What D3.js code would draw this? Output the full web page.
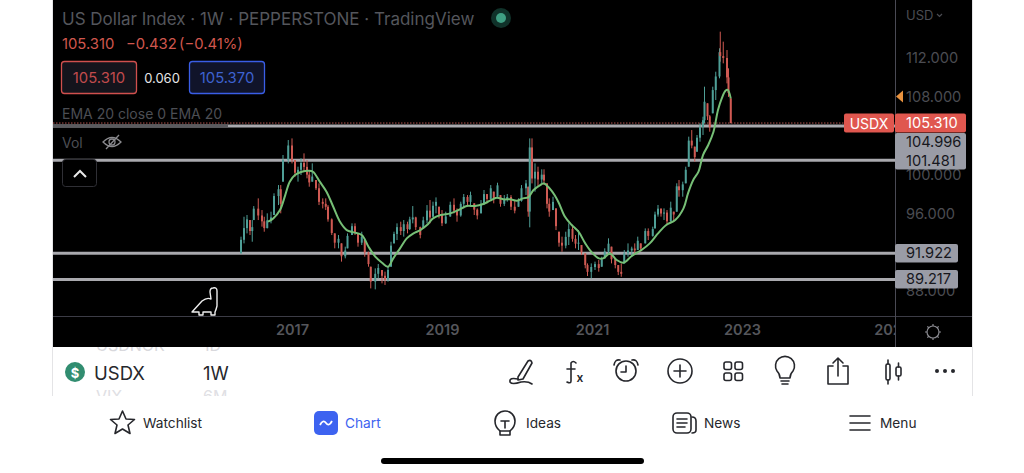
<!DOCTYPE html>
<html><head><meta charset="utf-8">
<script src="https://cdn.jsdelivr.net/npm/d3@7/dist/d3.min.js"></script>
<style>html,body{margin:0;padding:0;background:#fff;overflow:hidden}svg{display:block}text{font-family:Inter,"Noto Sans",sans-serif}</style>
</head><body><svg id="c" width="1024" height="473"></svg>
<script>
const years=[2016.32,2016.36,2016.40,2016.44,2016.47,2016.49,2016.55,2016.60,2016.63,2016.67,2016.72,2016.76,2016.82,2016.85,2016.88,2016.95,2017.00,2017.04,2017.08,2017.12,2017.16,2017.20,2017.23,2017.27,2017.32,2017.36,2017.41,2017.45,2017.48,2017.53,2017.57,2017.62,2017.66,2017.71,2017.74,2017.80,2017.84,2017.88,2017.93,2017.97,2018.02,2018.05,2018.11,2018.15,2018.20,2018.24,2018.28,2018.32,2018.36,2018.40,2018.45,2018.49,2018.54,2018.57,2018.61,2018.65,2018.71,2018.75,2018.80,2018.84,2018.88,2018.92,2018.96,2019.00,2019.05,2019.11,2019.16,2019.20,2019.25,2019.29,2019.34,2019.38,2019.43,2019.47,2019.52,2019.56,2019.60,2019.65,2019.69,2019.74,2019.78,2019.83,2019.87,2019.92,2019.97,2020.02,2020.06,2020.12,2020.15,2020.17,2020.20,2020.24,2020.28,2020.33,2020.36,2020.40,2020.43,2020.48,2020.52,2020.56,2020.60,2020.65,2020.69,2020.74,2020.78,2020.82,2020.86,2020.91,2020.94,2020.99,2021.04,2021.09,2021.13,2021.17,2021.22,2021.26,2021.31,2021.35,2021.39,2021.43,2021.48,2021.53,2021.57,2021.61,2021.65,2021.71,2021.75,2021.81,2021.84,2021.88,2021.92,2021.96,2022.00,2022.05,2022.09,2022.13,2022.16,2022.21,2022.25,2022.29,2022.33,2022.37,2022.40,2022.44,2022.48,2022.50,2022.54,2022.57,2022.61,2022.65,2022.70,2022.71,2022.75,2022.80,2022.82,2022.85];
const highs=[93.62,95.67,95.85,95.33,95.33,96.77,97.56,96.36,95.67,96.02,96.19,98.08,98.93,98.93,102.02,103.56,103.73,101.50,100.82,101.68,102.19,101.50,100.48,101.16,99.45,99.10,97.56,97.56,96.87,95.50,93.96,93.79,92.93,92.59,93.96,94.99,94.99,93.96,94.13,93.27,92.07,90.53,90.36,90.81,90.19,90.02,90.53,93.10,94.13,94.99,95.16,95.33,95.16,95.67,96.77,95.67,94.65,95.67,96.87,97.39,97.22,97.66,96.70,96.36,96.19,97.22,97.56,96.53,97.22,98.01,97.90,98.25,97.05,96.53,97.39,98.42,98.01,98.93,98.25,99.17,97.90,97.90,98.01,97.90,97.39,97.56,98.93,99.45,98.76,103.73,103.73,101.16,100.82,100.55,100.55,99.10,97.56,97.73,96.53,94.13,93.62,94.13,94.99,94.65,93.79,94.30,92.76,91.90,90.87,90.87,91.05,91.22,91.56,92.42,93.45,92.59,91.39,90.70,90.87,92.25,92.93,92.59,92.93,93.62,92.93,94.47,94.47,94.65,96.19,96.88,96.53,96.53,96.36,97.22,96.19,99.11,99.45,99.28,100.82,103.91,104.59,102.88,104.08,105.28,105.96,109.05,107.34,106.13,109.05,110.59,113.00,114.71,113.68,112.82,110.94,107.85];
const lows=[91.90,92.93,93.96,93.79,93.10,95.33,95.33,94.65,94.13,94.47,94.99,95.85,96.87,96.02,99.28,101.16,101.16,99.79,99.28,99.96,100.30,99.62,98.76,99.28,98.42,96.87,96.53,96.36,95.16,93.79,92.42,92.42,91.05,91.39,92.42,93.79,93.79,92.59,92.76,91.56,90.53,88.30,88.20,89.33,88.82,88.65,88.99,90.53,92.93,93.27,93.79,93.62,93.96,94.30,94.99,94.30,93.45,94.47,94.99,94.99,95.67,96.02,95.50,94.71,94.92,95.67,96.02,95.16,95.67,96.53,96.87,96.70,95.85,95.40,96.02,96.87,97.05,97.39,97.05,97.73,96.70,96.77,97.22,96.36,96.02,96.70,97.22,97.90,95.67,94.58,99.10,98.25,98.76,99.10,98.93,96.53,95.67,96.36,94.30,92.59,92.07,92.42,92.76,93.10,92.42,92.25,91.73,90.36,89.57,89.33,90.19,90.02,90.53,91.39,91.90,90.87,90.36,89.67,89.50,90.87,91.56,91.56,91.90,92.25,92.08,92.93,93.27,93.62,94.47,95.68,95.68,95.33,94.82,95.16,95.16,96.19,97.73,97.73,99.11,100.82,102.71,101.33,102.36,103.39,104.08,105.28,105.62,104.42,106.31,107.68,109.91,111.62,111.45,109.39,108.00,105.28];
const closes=[93.3,94.5,95.4,94.2,94.6,96.5,95.8,95.2,94.5,95.3,95.6,97.8,98.5,97.0,101.5,103.0,101.5,100.2,100.5,101.2,100.8,100.0,99.2,99.8,98.6,97.2,97.0,96.7,95.4,94.0,93.0,93.4,91.6,92.2,93.7,94.7,94.0,93.0,93.6,92.0,90.8,89.0,89.8,90.4,89.6,89.2,90.2,92.7,93.9,94.6,94.2,94.9,94.4,95.4,95.6,94.6,93.8,95.3,96.3,95.6,96.8,97.2,95.9,95.0,95.7,96.9,96.3,95.8,97.0,97.7,97.2,97.9,96.4,95.8,97.0,98.0,97.5,98.6,97.6,98.9,97.0,97.5,97.7,96.7,96.3,97.3,98.6,99.1,96.2,102.8,99.6,100.3,99.5,100.0,99.4,97.0,96.2,97.2,94.7,93.0,92.7,93.6,94.4,93.4,92.9,93.0,92.0,90.7,90.0,90.5,90.8,90.4,91.3,92.1,92.9,91.3,90.7,90.0,89.8,91.9,92.2,92.4,92.2,93.2,92.4,94.2,93.7,94.4,95.9,96.5,96.0,96.1,95.2,96.6,95.9,98.8,98.4,99.0,100.5,103.5,103.0,101.8,103.8,104.9,105.6,107.5,106.0,104.9,108.7,110.1,112.6,112.2,112.0,110.0,108.4,105.31];
const emaYears=[2016.68,2016.75,2016.84,2016.91,2016.97,2017.04,2017.13,2017.22,2017.28,2017.37,2017.46,2017.55,2017.64,2017.73,2017.82,2017.93,2018.02,2018.11,2018.20,2018.28,2018.35,2018.44,2018.53,2018.62,2018.71,2018.80,2018.88,2018.98,2019.11,2019.22,2019.33,2019.44,2019.55,2019.64,2019.73,2019.82,2019.91,2020.00,2020.08,2020.15,2020.22,2020.31,2020.36,2020.46,2020.55,2020.64,2020.73,2020.82,2020.91,2020.99,2021.09,2021.15,2021.24,2021.33,2021.42,2021.53,2021.66,2021.77,2021.88,2021.99,2022.11,2022.22,2022.28,2022.35,2022.42,2022.48,2022.55,2022.62,2022.68,2022.73,2022.78,2022.81,2022.85];
const emaValues=[95.16,95.50,96.36,97.90,99.28,99.96,100.30,100.41,100.30,99.28,98.25,96.70,95.16,94.30,94.06,93.79,92.59,91.56,90.94,90.53,91.39,92.42,93.44,93.96,94.30,94.82,95.50,95.85,96.02,96.36,96.77,96.77,96.98,97.32,97.63,97.46,97.46,97.32,97.56,97.66,98.42,98.93,99.10,98.35,97.22,95.67,94.82,94.13,92.93,92.07,91.39,91.39,91.90,91.22,90.94,91.63,92.25,92.93,93.96,94.82,95.33,96.53,98.08,99.45,100.31,102.02,103.05,104.42,106.65,107.85,108.64,108.71,107.85];
const levels=[104.996,101.481,91.922,89.217];
const levelLabels=["104.996","101.481","91.922","89.217"];
const priceTicks=[112,108,100,96,88];
const yearTicks=[2017,2019,2021,2023,2025];
const lastPrice=105.31;

const svg=d3.select("#c");
const x=d3.scaleLinear().domain([2017,2023]).range([292,742]);
const y=d3.scaleLinear().domain([112,88]).range([58,291.3]);
const defs=svg.append("defs");
defs.append("clipPath").attr("id","plot").append("rect").attr("x",53).attr("y",0).attr("width",842).attr("height",316);
defs.append("clipPath").attr("id","timeAxis").append("rect").attr("x",53).attr("y",317).attr("width",842).attr("height",30);
defs.append("clipPath").attr("id","peekTop").append("rect").attr("x",53).attr("y",347).attr("width",919).attr("height",7);
defs.append("clipPath").attr("id","peekBot").append("rect").attr("x",53).attr("y",388).attr("width",919).attr("height",8);
defs.append("filter").attr("id","soft").attr("x","-5%").attr("y","-5%").attr("width","110%").attr("height","110%").append("feGaussianBlur").attr("stdDeviation",0.4);

svg.append("rect").attr("x",52).attr("y",0).attr("width",921).attr("height",396).attr("fill","#e4e4e6");
svg.append("rect").attr("x",53).attr("y",0).attr("width",919).attr("height",347).attr("fill","#000");
svg.append("rect").attr("x",53).attr("y",347).attr("width",919).attr("height",49).attr("fill","#fff");

// price and time axes
const yAxis=svg.append("g").attr("transform","translate(900,0)").call(d3.axisRight(y).tickValues(priceTicks).tickSize(0).tickPadding(6).tickFormat(d3.format(".3f")));
yAxis.select(".domain").remove();
yAxis.selectAll("text").attr("fill","#4b4c52").style("font-size","14.6px").style("font-family","Inter");
const xAxis=svg.append("g").attr("clip-path","url(#timeAxis)").append("g").attr("transform","translate(0,325)").call(d3.axisBottom(x).tickValues(yearTicks).tickSize(0).tickPadding(0).tickFormat(d3.format("d")));
xAxis.select(".domain").remove();
xAxis.selectAll("text").attr("fill","#55565b").style("font-size","14.5px").style("font-weight","600").style("font-family","Inter");

svg.append("line").attr("x1",53).attr("x2",972).attr("y1",316.5).attr("y2",316.5).attr("stroke","#3c3c46");
svg.append("line").attr("x1",895.5).attr("x2",895.5).attr("y1",0).attr("y2",347).attr("stroke","#4a4a54");

const plot=svg.append("g").attr("clip-path","url(#plot)");
// level lines
plot.selectAll("line.lv").data(levels).join("line").attr("class","lv")
  .attr("x1",53).attr("x2",895).attr("y1",d=>y(d)).attr("y2",d=>y(d))
  .attr("stroke","#a9a9ae").attr("stroke-width",3);
plot.append("line").attr("x1",53).attr("x2",228).attr("y1",y(levels[0])).attr("y2",y(levels[0])).attr("stroke","#5a5a5e").attr("stroke-width",3);
plot.append("line").attr("x1",53).attr("x2",895).attr("y1",y(lastPrice)).attr("y2",y(lastPrice))
  .attr("stroke","#b5544f").attr("stroke-width",1).attr("stroke-dasharray","1.5 1.5");

// candles: each opens where the previous sample closed
const up="#4f9f97",down="#cf5a52";
const candles=years.map((t,i)=>({t,h:highs[i],l:lows[i],c:closes[i],o:i?closes[i-1]:lows[i]}));
const cg=plot.append("g").attr("filter","url(#soft)");
cg.selectAll("line").data(candles).join("line")
  .attr("x1",d=>x(d.t)).attr("x2",d=>x(d.t)).attr("y1",d=>y(d.h)).attr("y2",d=>y(d.l))
  .attr("stroke",d=>d.c>=d.o?up:down).attr("stroke-width",1);
cg.selectAll("rect").data(candles).join("rect")
  .attr("x",d=>x(d.t)-1).attr("width",2)
  .attr("y",d=>y(Math.min(d.h,Math.max(d.o,d.c))))
  .attr("height",d=>Math.max(1,Math.abs(y(Math.min(d.h,Math.max(d.o,d.c)))-y(Math.max(d.l,Math.min(d.o,d.c))))))
  .attr("fill",d=>d.c>=d.o?up:down);
// EMA
plot.append("path").datum(d3.zip(emaYears,emaValues))
  .attr("d",d3.line().x(d=>x(d[0])).y(d=>y(d[1])).curve(d3.curveCatmullRom))
  .attr("fill","none").attr("stroke","#76bf76").attr("stroke-width",2).attr("filter","url(#soft)");

function T(t,px,py,o={}){return svg.append("text").attr("x",px).attr("y",py).text(t)
  .attr("fill",o.f||"#222").style("font-size",(o.s||13)+"px").style("font-weight",o.w||400)
  .attr("text-anchor",o.a||"start").attr("dominant-baseline","central");}

// header
T("US Dollar Index · 1W · PEPPERSTONE · TradingView",62,19,{f:"#54565c",s:17});
svg.append("circle").attr("cx",501).attr("cy",18).attr("r",10).attr("fill","#10322a");
svg.append("circle").attr("cx",501).attr("cy",18).attr("r",5).attr("fill","#3f9f83");
T("105.310",62,44,{f:"#d0574e",s:14.8});T("−0.432",126,44,{f:"#d0574e",s:14.8});T("(−0.41%)",179,44,{f:"#d0574e",s:14.8});
svg.append("rect").attr("x",61.5).attr("y",61.5).attr("width",75).attr("height",32).attr("rx",3).attr("fill","#14141c").attr("stroke","#d0504e").attr("stroke-width",1.3);
T("105.310",99,78,{f:"#c14b4d",s:14.8,a:"middle"});
T("0.060",162,78,{f:"#e6e6e6",s:13,a:"middle"});
svg.append("rect").attr("x",189.5).attr("y",61.5).attr("width",75).attr("height",32).attr("rx",3).attr("fill","#10142a").attr("stroke","#3a5ee6").attr("stroke-width",1.3);
T("105.370",227,78,{f:"#3d62d0",s:14.8,a:"middle"});
T("EMA 20 close 0 EMA 20",62,113,{f:"#4c4e54",s:14});
T("Vol",62,142,{f:"#4c4e54",s:14});
const eye=svg.append("g").attr("transform","translate(112,142)").attr("fill","none").attr("stroke","#8a8a8e").attr("stroke-width",1.3);
eye.append("path").attr("d","M-9 0Q0 -9 9 0Q0 9 -9 0Z");eye.append("circle").attr("r",3);eye.append("path").attr("d","M-6 7L7 -7");
svg.append("rect").attr("x",62.5).attr("y",159.5).attr("width",34).attr("height",27).attr("rx",3).attr("fill","#000").attr("stroke","#2f2f35");
svg.append("path").attr("d","M74 177L80 171L86 177").attr("fill","none").attr("stroke","#e8e8e8").attr("stroke-width",2);
// dino logo
svg.append("path").attr("d","M192 312L202 301Q207 297 211 299L210 292Q210 288 213 288Q217 287 217 291L217 306Q216 310 215 312L215 315L211 315L211 312L203 312L203 315L199 315L199 312Z").attr("fill","#000").attr("stroke","#eee").attr("stroke-width",1.4).attr("stroke-linejoin","round");

// right side tags
T("USD",906,15,{f:"#4b4c52",s:13});
svg.append("path").attr("d","M937 14L939.5 16.5L942 14").attr("fill","none").attr("stroke","#4b4c52").attr("stroke-width",1.2);
svg.append("path").attr("d","M896 96.5L903 90.5L903 102.5Z").attr("fill","#e8923f");
svg.append("rect").attr("x",844).attr("y",113.5).attr("width",50).attr("height",19).attr("rx",2).attr("fill","#e0574f");
T("USDX",869,123,{f:"#fff",s:14,a:"middle"});
svg.append("rect").attr("x",895).attr("y",113.5).attr("width",71).attr("height",19).attr("rx",2).attr("fill","#e0574f");
T("105.310",906,123,{f:"#fff",s:14.6});
svg.append("rect").attr("x",895).attr("y",133).attr("width",71).attr("height",36.5).attr("rx",2).attr("fill","#9a9ca6");
svg.append("rect").attr("x",895).attr("y",244).attr("width",63).attr("height",18.5).attr("rx",2).attr("fill","#9a9ca6");
svg.append("rect").attr("x",895).attr("y",270).attr("width",63).attr("height",18.5).attr("rx",2).attr("fill","#9a9ca6");
const tagY=[142,160.5,253,279];
levelLabels.forEach((l,i)=>T(l,906,tagY[i],{f:"#17171d",s:14.6}));
const sun=svg.append("g").attr("transform","translate(933,332)").attr("fill","none").attr("stroke","#8a8a90").attr("stroke-width",1.2);
sun.append("circle").attr("r",6);
d3.range(8).forEach(i=>{const a=i*Math.PI/4;sun.append("line").attr("x1",6*Math.cos(a)).attr("y1",6*Math.sin(a)).attr("x2",8*Math.cos(a)).attr("y2",8*Math.sin(a));});

// toolbar
svg.append("g").attr("clip-path","url(#peekTop)").call(g=>{g.append("text").attr("x",96).attr("y",345).text("USDNOK").attr("fill","#d8d8dc").style("font-size","16px").attr("dominant-baseline","central");g.append("text").attr("x",203).attr("y",345).text("1D").attr("fill","#d8d8dc").style("font-size","16px").attr("dominant-baseline","central");});
svg.append("g").attr("clip-path","url(#peekBot)").call(g=>{g.append("text").attr("x",96).attr("y",396).text("VIX").attr("fill","#e0e0e4").style("font-size","16px").attr("dominant-baseline","central");g.append("text").attr("x",203).attr("y",396).text("6M").attr("fill","#e0e0e4").style("font-size","16px").attr("dominant-baseline","central");});
svg.append("circle").attr("cx",75).attr("cy",372).attr("r",10).attr("fill","#318d70");
T("$",75,372.5,{f:"#fff",s:13,w:700,a:"middle"});
T("USDX",94,372.5,{f:"#26272c",s:18.5});
T("1W",203,372.5,{f:"#26272c",s:18.5});
const ic=(px,py)=>svg.append("g").attr("transform",`translate(${px},${py})`).attr("fill","none").attr("stroke","#26272c").attr("stroke-width",1.6).attr("stroke-linecap","round").attr("stroke-linejoin","round");
ic(521,372).call(g=>{g.append("path").attr("d","M-3 5L7 -11Q10 -13 11 -9L2 7L-3 8Z");g.append("path").attr("d","M-3 7Q-12 5 -11 10Q-9 13 0 10Q7 9 11 12");});
ic(572,372).call(g=>g.append("path").attr("d","M4 -9Q1 -12 -1 -9V9Q-1 12 -5 10M-5 -3H3"));
T("x",580,377,{f:"#26272c",s:12,w:600,a:"middle"});
ic(626,371).call(g=>{g.append("circle").attr("r",10);g.append("path").attr("d","M0 -5L0 1L-5 1");g.append("path").attr("d","M-12 -6Q-11 -12 -6 -11M12 -6Q11 -12 6 -11");});
ic(680,371).call(g=>{g.append("circle").attr("r",12);g.append("path").attr("d","M-6 0H6M0 -6V6");});
ic(733,371).call(g=>[[-9,-9],[2,-9],[-9,2],[2,2]].forEach(p=>g.append("rect").attr("x",p[0]).attr("y",p[1]).attr("width",7.5).attr("height",7.5).attr("rx",2)));
ic(785,370).call(g=>{g.append("path").attr("d","M-5 8Q-5 4 -8 1A9.5 9.5 0 1 1 8 1Q5 4 5 8Z");g.append("path").attr("d","M-4 11H4M-3 14H3");});
ic(838,372).call(g=>{g.append("path").attr("d","M-5 -6H-10V12H10V-6H5");g.append("path").attr("d","M0 4V-14M-5 -9L0 -14L5 -9");});
ic(893,372).call(g=>{g.append("rect").attr("x",-7).attr("y",-8).attr("width",4).attr("height",16).attr("rx",1.5);g.append("path").attr("d","M-5 -8V-12M-5 8V12");g.append("rect").attr("x",3).attr("y",-5).attr("width",5).attr("height",9).attr("rx",1.5);g.append("path").attr("d","M5.5 -5V-9M5.5 4V8");});
[-8,0,8].forEach(d=>svg.append("circle").attr("cx",945+d).attr("cy",371).attr("r",2).attr("fill","#26272c"));

// tab bar
svg.append("rect").attr("x",0).attr("y",396).attr("width",1024).attr("height",77).attr("fill","#fff");
ic(122.5,423).call(g=>g.append("path").attr("d","M0 -12L3.5 -4L12 -3.5L5.5 2L7.5 10.5L0 6L-7.5 10.5L-5.5 2L-12 -3.5L-3.5 -4Z"));
T("Watchlist",143,423,{f:"#26272c",s:13.7});
svg.append("rect").attr("x",314).attr("y",411).attr("width",24).attr("height",24).attr("rx",5).attr("fill","#3d63f0");
svg.append("path").attr("d","M320 425Q323 419 326 423T332 421").attr("fill","none").attr("stroke","#fff").attr("stroke-width",1.8);
T("Chart",345,423,{f:"#3d63f0",s:13.7});
ic(505,422).call(g=>{g.append("path").attr("d","M-5 9Q-10 5 -10 -1A10 10 0 1 1 10 -1Q10 5 5 9Z");g.append("path").attr("d","M-4 -1H4M0 -1V6M-5 9V13H5V9");});
T("Ideas",526,423,{f:"#26272c",s:13.7});
ic(684,423).call(g=>{g.append("rect").attr("x",-11).attr("y",-10).attr("width",18).attr("height",20).attr("rx",4);g.append("path").attr("d","M-7 -4H3M-7 0H3M-7 4H1M8 -6Q12 -6 12 -2V7Q12 10 8 10");});
T("News",704,423,{f:"#26272c",s:13.7});
ic(860,423).call(g=>g.append("path").attr("d","M-10 -7H10M-10 0H10M-10 7H10"));
T("Menu",880,423,{f:"#26272c",s:13.7});
svg.append("rect").attr("x",381).attr("y",458).attr("width",263).attr("height",6).attr("rx",3).attr("fill","#000");
</script></body></html>
